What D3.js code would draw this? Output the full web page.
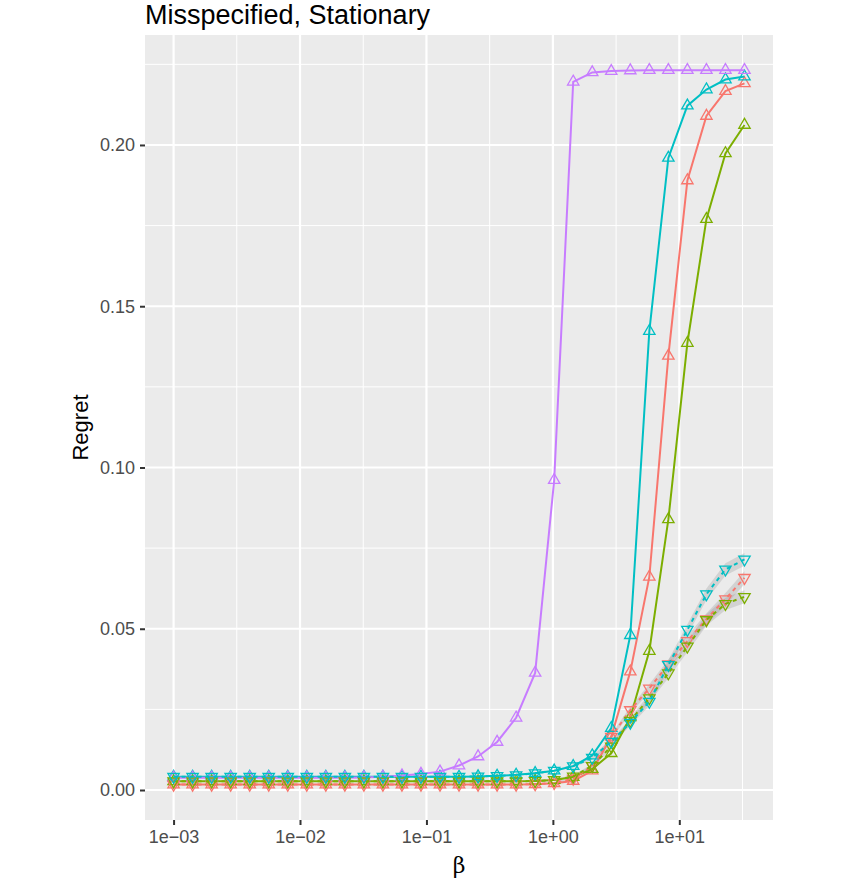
<!DOCTYPE html>
<html>
<head>
<meta charset="utf-8">
<script src="https://d3js.org/d3.v7.min.js"></script>
<style>
  body { margin: 0; background: #fff; }
  text { font-family: "Liberation Sans", Arial, Helvetica, sans-serif; }
</style>
</head>
<body>
<svg width="844" height="882"></svg>
<script>
// beta grid (x values)
var beta = [0.001, 0.001414, 0.002, 0.002828, 0.004, 0.005657, 0.008, 0.01131, 0.016, 0.02263,
            0.032, 0.04525, 0.064, 0.0905, 0.128, 0.181, 0.256, 0.362, 0.512, 0.724,
            1.024, 1.448, 2.048, 2.896, 4.096, 5.793, 8.192, 11.585, 16.384, 23.17, 32.768];

// solid lines, up triangles
var redSolid = [0.0017, 0.0017, 0.0017, 0.0017, 0.0017, 0.0017, 0.0017, 0.0017, 0.0017, 0.0017,
                0.0017, 0.0017, 0.0017, 0.0017, 0.0017, 0.0017, 0.0017, 0.0017, 0.0017, 0.0018,
                0.0021, 0.0028, 0.0060, 0.0165, 0.0367, 0.0661, 0.1346, 0.1890, 0.2090, 0.2167, 0.2191];
var greenSolid = [0.0027, 0.0027, 0.0027, 0.0027, 0.0027, 0.0027, 0.0027, 0.0027, 0.0027, 0.0027,
                  0.0027, 0.0027, 0.0027, 0.0027, 0.0027, 0.0027, 0.0027, 0.0027, 0.0027, 0.0028,
                  0.0031, 0.0040, 0.0065, 0.0114, 0.0225, 0.0431, 0.0839, 0.1386, 0.1770, 0.1974, 0.2062];
var cyanSolid = [0.0041, 0.0041, 0.0041, 0.0041, 0.0041, 0.0041, 0.0041, 0.0041, 0.0041, 0.0041,
                 0.0041, 0.0041, 0.0041, 0.0041, 0.0041, 0.0041, 0.0042, 0.0044, 0.0047, 0.0052,
                 0.0060, 0.0074, 0.0107, 0.0192, 0.0480, 0.1423, 0.1960, 0.2122, 0.2172, 0.2203, 0.2212];
var purpleSolid = [0.0038, 0.0038, 0.0038, 0.0038, 0.0038, 0.0038, 0.0038, 0.0038, 0.0038, 0.0038,
                   0.0039, 0.0041, 0.0045, 0.0050, 0.0057, 0.0076, 0.0104, 0.0149, 0.0224, 0.0363,
                   0.0961, 0.2196, 0.2225, 0.2229, 0.2231, 0.2232, 0.2232, 0.2232, 0.2232, 0.2232, 0.2232];

// dashed lines, down triangles, with ribbons
var redDashed = [0.0017, 0.0017, 0.0017, 0.0017, 0.0017, 0.0017, 0.0017, 0.0017, 0.0017, 0.0017,
                 0.0017, 0.0017, 0.0017, 0.0017, 0.0017, 0.0017, 0.0017, 0.0017, 0.0017, 0.0018,
                 0.0022, 0.0035, 0.0075, 0.0165, 0.0248, 0.0315, 0.0390, 0.0462, 0.0530, 0.0592, 0.0658];
var greenDashed = [0.0027, 0.0027, 0.0027, 0.0027, 0.0027, 0.0027, 0.0027, 0.0027, 0.0027, 0.0027,
                   0.0027, 0.0027, 0.0027, 0.0027, 0.0027, 0.0027, 0.0027, 0.0027, 0.0027, 0.0028,
                   0.0031, 0.0042, 0.0075, 0.0135, 0.0215, 0.0285, 0.0362, 0.0445, 0.0527, 0.0577, 0.0599];
var cyanDashed = [0.0041, 0.0041, 0.0041, 0.0041, 0.0041, 0.0041, 0.0041, 0.0041, 0.0041, 0.0041,
                  0.0041, 0.0041, 0.0041, 0.0041, 0.0041, 0.0041, 0.0042, 0.0044, 0.0046, 0.0052,
                  0.0060, 0.0074, 0.0100, 0.0150, 0.0209, 0.0274, 0.0388, 0.0497, 0.0607, 0.0684, 0.0715];
var seDashed = [0.0001, 0.0001, 0.0001, 0.0001, 0.0001, 0.0001, 0.0001, 0.0001, 0.0001, 0.0001,
                0.0001, 0.0001, 0.0001, 0.0001, 0.0001, 0.0001, 0.0001, 0.0001, 0.0002, 0.0002,
                0.0003, 0.0004, 0.0006, 0.0008, 0.0010, 0.0013, 0.0015, 0.0017, 0.0018, 0.0019, 0.0020];

var xTicks = [1e-3, 1e-2, 1e-1, 1, 10];
var xTickLabels = ["1e\u221203", "1e\u221202", "1e\u221201", "1e+00", "1e+01"];
var xMinor = [Math.pow(10, -2.5), Math.pow(10, -1.5), Math.pow(10, -0.5), Math.pow(10, 0.5), Math.pow(10, 1.5)];
var yTicks = [0, 0.05, 0.10, 0.15, 0.20];
var yTickLabels = ["0.00", "0.05", "0.10", "0.15", "0.20"];
var yMinor = [0.025, 0.075, 0.125, 0.175, 0.225];

var series = [
  {vals: redSolid,    colour: "#F8766D", dashed: false},
  {vals: greenSolid,  colour: "#7CAE00", dashed: false},
  {vals: cyanSolid,   colour: "#00BFC4", dashed: false},
  {vals: purpleSolid, colour: "#C77CFF", dashed: false},
  {vals: redDashed,   colour: "#F8766D", dashed: true, se: seDashed},
  {vals: greenDashed, colour: "#7CAE00", dashed: true, se: seDashed},
  {vals: cyanDashed,  colour: "#00BFC4", dashed: true, se: seDashed}
];

var svg = d3.select("svg"),
    pLeft = 145, pRight = 773, pTop = 35, pBottom = 820;

var x = d3.scaleLog().domain([Math.pow(10, -3.226), Math.pow(10, 1.741)]).range([pLeft, pRight]);
var y = d3.scaleLinear().domain([-0.0093, 0.2341]).range([pBottom, pTop]);

svg.append("rect")
    .attr("x", pLeft).attr("y", pTop)
    .attr("width", pRight - pLeft).attr("height", pBottom - pTop)
    .attr("fill", "#EBEBEB");

var grid = svg.append("g");
grid.selectAll(".ymin").data(yMinor).enter().append("line")
    .attr("x1", pLeft).attr("x2", pRight)
    .attr("y1", function(d) { return y(d); }).attr("y2", function(d) { return y(d); })
    .attr("stroke", "#fff").attr("stroke-width", 1);
grid.selectAll(".xmin").data(xMinor).enter().append("line")
    .attr("y1", pTop).attr("y2", pBottom)
    .attr("x1", function(d) { return x(d); }).attr("x2", function(d) { return x(d); })
    .attr("stroke", "#fff").attr("stroke-width", 1);
grid.selectAll(".ymaj").data(yTicks).enter().append("line")
    .attr("x1", pLeft).attr("x2", pRight)
    .attr("y1", function(d) { return y(d); }).attr("y2", function(d) { return y(d); })
    .attr("stroke", "#fff").attr("stroke-width", 2.2);
grid.selectAll(".xmaj").data(xTicks).enter().append("line")
    .attr("y1", pTop).attr("y2", pBottom)
    .attr("x1", function(d) { return x(d); }).attr("x2", function(d) { return x(d); })
    .attr("stroke", "#fff").attr("stroke-width", 2.2);

// ribbons
var area = d3.area()
    .x(function(d) { return x(d.b); })
    .y0(function(d) { return y(d.v - d.s); })
    .y1(function(d) { return y(d.v + d.s); });

series.filter(function(s) { return s.dashed; }).forEach(function(s) {
  var pts = beta.map(function(b, i) { return {b: b, v: s.vals[i], s: s.se[i]}; });
  svg.append("path").datum(pts)
      .attr("d", area)
      .attr("fill", "#999999").attr("fill-opacity", 0.3);
});

var line = d3.line()
    .x(function(d) { return x(d.b); })
    .y(function(d) { return y(d.v); });

var tri = d3.symbol().type(d3.symbolTriangle).size(56);

series.forEach(function(s) {
  var pts = beta.map(function(b, i) { return {b: b, v: s.vals[i]}; });
  svg.append("path").datum(pts)
      .attr("d", line)
      .attr("fill", "none")
      .attr("stroke", s.colour)
      .attr("stroke-width", 2)
      .attr("stroke-dasharray", s.dashed ? "4,4" : null);
  svg.append("g").selectAll("path").data(pts).enter().append("path")
      .attr("d", tri)
      .attr("transform", function(d) {
        return "translate(" + x(d.b) + "," + y(d.v) + ")" + (s.dashed ? " rotate(180)" : "");
      })
      .attr("fill", "none")
      .attr("stroke", s.colour)
      .attr("stroke-width", 1.3);
});

// axes
var xAxis = svg.append("g")
    .attr("transform", "translate(0," + pBottom + ")")
    .call(d3.axisBottom(x).tickValues(xTicks).tickSize(5)
      .tickFormat(function(d, i) { return xTickLabels[i]; }));
var yAxis = svg.append("g")
    .attr("transform", "translate(" + pLeft + ",0)")
    .call(d3.axisLeft(y).tickValues(yTicks).tickSize(5)
      .tickFormat(function(d, i) { return yTickLabels[i]; }));

[xAxis, yAxis].forEach(function(a) {
  a.select(".domain").remove();
  a.selectAll(".tick line").attr("stroke", "#333333").attr("stroke-width", 2);
  a.selectAll(".tick text")
      .attr("fill", "#4D4D4D")
      .style("font-size", "18px")
      .style("font-family", "'Liberation Sans', Arial, sans-serif");
});
xAxis.selectAll(".tick text").attr("y", 10).attr("dy", "0.71em");
yAxis.selectAll(".tick text").attr("x", -10);

svg.append("text")
    .attr("x", 145).attr("y", 24)
    .style("font-size", "27px")
    .text("Misspecified, Stationary");

svg.append("text")
    .attr("transform", "translate(" + 88 + "," + ((pTop + pBottom) / 2) + ") rotate(-90)")
    .attr("text-anchor", "middle")
    .style("font-size", "22px")
    .text("Regret");

svg.append("text")
    .attr("x", (pLeft + pRight) / 2).attr("y", 873)
    .attr("text-anchor", "middle")
    .style("font-family", "'DejaVu Serif', 'Liberation Serif', serif")
    .style("font-size", "22px")
    .text("β");
</script>
</body>
</html>
